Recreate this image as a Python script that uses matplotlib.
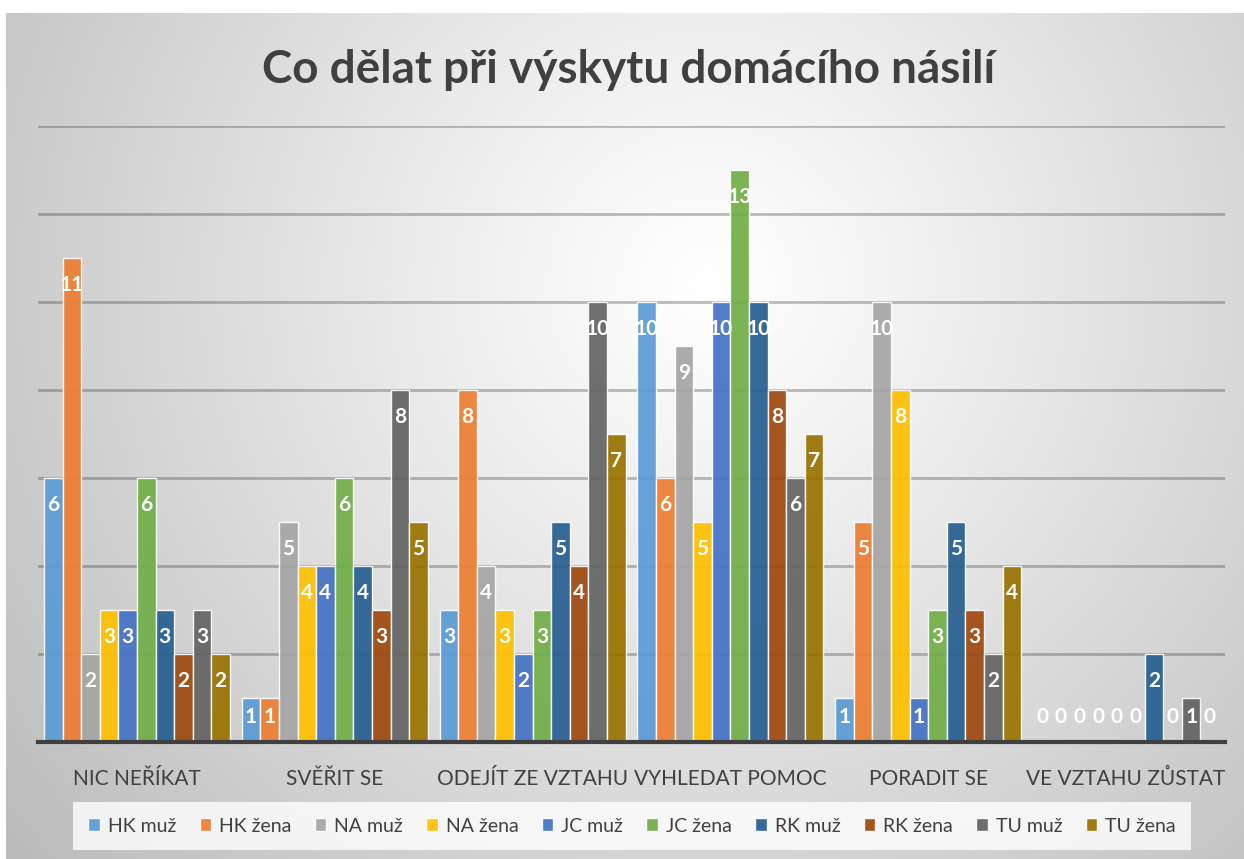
import numpy as np
import matplotlib.pyplot as plt

plt.rcParams['font.family'] = ['Lato', 'DejaVu Sans']

categories = ['NIC NEŘÍKAT', 'SVĚŘIT SE', 'ODEJÍT ZE VZTAHU', 'VYHLEDAT POMOC',
              'PORADIT SE', 'VE VZTAHU ZŮSTAT']
series = ['HK muž', 'HK žena', 'NA muž', 'NA žena', 'JC muž',
          'JC žena', 'RK muž', 'RK žena', 'TU muž', 'TU žena']
colors = ['#5B9BD5', '#ED7D31', '#A5A5A5', '#FFC000', '#4472C4',
          '#70AD47', '#255E91', '#9E480E', '#636363', '#997300']

hk_muz = [6, 1, 3, 10, 1, 0]
hk_zena = [11, 1, 8, 6, 5, 0]
na_muz = [2, 5, 4, 9, 10, 0]
na_zena = [3, 4, 3, 5, 8, 0]
jc_muz = [3, 4, 2, 10, 1, 0]
jc_zena = [6, 6, 3, 13, 3, 0]
rk_muz = [3, 4, 5, 10, 5, 2]
rk_zena = [2, 3, 4, 8, 3, 0]
tu_muz = [3, 8, 10, 6, 2, 1]
tu_zena = [2, 5, 7, 7, 4, 0]
values = [hk_muz, hk_zena, na_muz, na_zena, jc_muz,
          jc_zena, rk_muz, rk_zena, tu_muz, tu_zena]

W, H = 1244, 859
fig = plt.figure(figsize=(W / 100, H / 100), dpi=100)
fig.patch.set_facecolor('white')

# radial gradient background of the chart box
bg = fig.add_axes([6 / W, 0, 1 - 6 / W, 1 - 13 / H])
bg.set_axis_off()
yy, xx = np.mgrid[0:H - 13, 0:W - 6]
cx, cy = 700, 270
d = np.hypot(xx - cx, yy - cy)
d = d / d.max()
shade = 1 - 0.27 * d ** 1.1
img = np.dstack([shade, shade, shade])
bg.imshow(img, aspect='auto', extent=[0, 1, 0, 1], origin='upper')
bg.set_xlim(0, 1)
bg.set_ylim(0, 1)

ax = fig.add_axes([38 / W, (H - 742) / H, 1187 / W, 616 / H])
ax.set_facecolor('none')

x = np.arange(len(categories))
bw = 0.094
for i, (name, vals, col) in enumerate(zip(series, values, colors)):
    pos = x + (i - 4.5) * bw
    ax.bar(pos, vals, width=bw, color=col, alpha=0.92, edgecolor=(1, 1, 1, 0.5),
           linewidth=1, label=name, zorder=3)
    for p, v in zip(pos, vals):
        ax.text(p, max(v - 0.62, 0.57), str(v), ha='center', va='center',
                color='white', fontsize=15, fontweight='bold', zorder=5)

ax.set_xlim(-0.5, len(categories) - 0.5)
ax.set_ylim(0, 14)
ax.set_yticks(np.arange(2, 15, 2))
ax.yaxis.grid(True, color=(0.25, 0.25, 0.25), alpha=0.35, linewidth=2, zorder=1)
ax.set_axisbelow(True)
ax.tick_params(axis='y', left=False, labelleft=False)
ax.tick_params(axis='x', bottom=False, labelsize=15, labelcolor='#404040', pad=16)
ax.set_xticks(x)
ax.set_xticklabels(categories)
for s in ['top', 'right', 'left']:
    ax.spines[s].set_visible(False)
ax.spines['bottom'].set_color('#404040')
ax.spines['bottom'].set_linewidth(3)
ax.spines['bottom'].set_zorder(6)

fig.text(0.505, (H - 70) / H, 'Co dělat při výskytu domácího násilí', ha='center',
         va='center', fontsize=33, fontweight='bold', color='#404040')

leg = fig.legend(loc='center', bbox_to_anchor=(632 / W, (H - 826) / H), ncol=10,
                 fontsize=14, frameon=True, handlelength=0.6, handleheight=0.6,
                 handletextpad=0.4, columnspacing=1.2, borderpad=0.5)
leg.get_frame().set_facecolor((1, 1, 1, 0.2))
leg.get_frame().set_edgecolor('none')
leg.get_frame().set_boxstyle('square', pad=0.3)
for t in leg.get_texts():
    t.set_color('#404040')

fig.savefig('out.png', dpi=100)
